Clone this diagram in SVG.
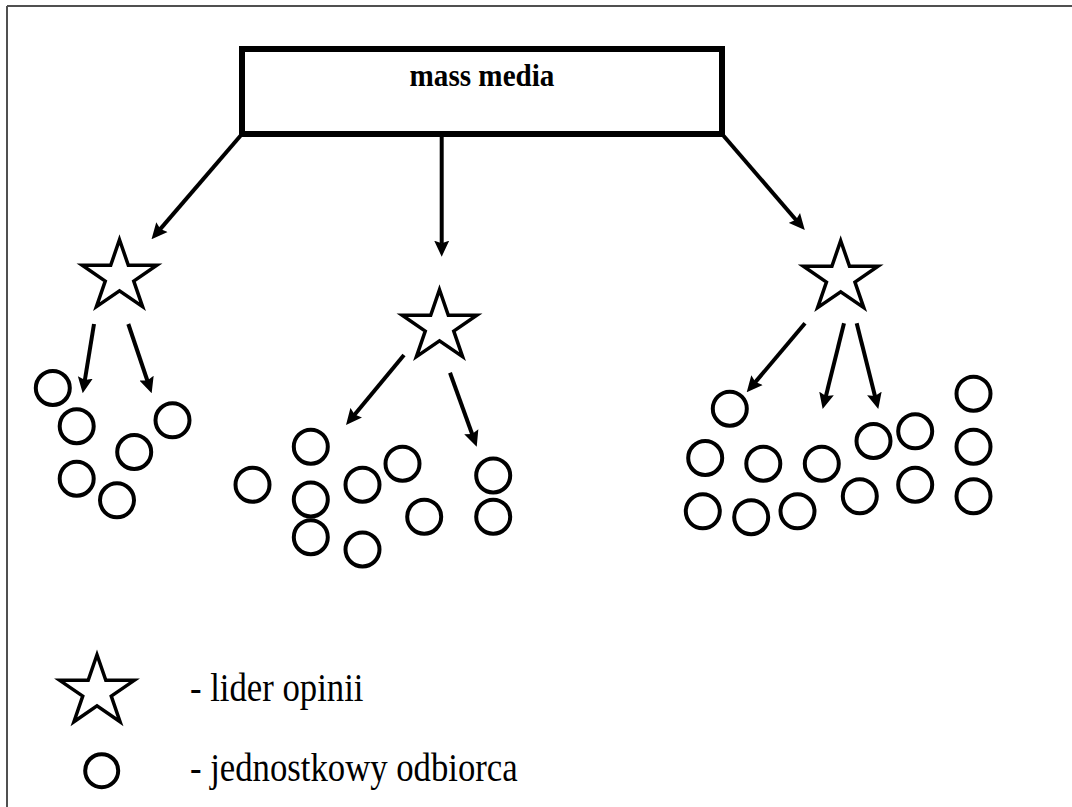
<svg xmlns="http://www.w3.org/2000/svg" xmlns:xlink="http://www.w3.org/1999/xlink" width="1072" height="807" viewBox="0 0 1072 807">
<style>
.frame{stroke:#505050;stroke-width:2;fill:none}
.box{fill:#fff;stroke:#000;stroke-width:6}
.star{fill:#fff;stroke:#000;stroke-width:3.5;stroke-linejoin:miter;stroke-miterlimit:8}
.rcv{fill:#fff;stroke:#000;stroke-width:4}
.conn{stroke:#000;stroke-width:4;fill:none;marker-end:url(#ah)}
.title{font-family:"Liberation Serif","Times New Roman",serif;font-weight:bold;font-size:31px;fill:#000}
.leg{font-family:"Liberation Serif","Times New Roman",serif;font-size:39px;fill:#000}
</style>
<defs>
<marker id="ah" markerUnits="userSpaceOnUse" viewBox="0 0 16 16" markerWidth="16" markerHeight="16" refX="3" refY="8" orient="auto">
<path d="M0,0.5 L16,8 L0,15.5 L2.5,8 Z" fill="#000"/>
</marker>
<path id="star" d="M0,-37 L8.81,-11.43 L37.30,-11.43 L14.25,4.37 L23.06,29.93 L0,14.13 L-23.06,29.93 L-14.25,4.37 L-37.30,-11.43 L-8.81,-11.43 Z"/>
</defs>
<rect width="1072" height="807" fill="#fff"/>
<g id="frame">
<line class="frame" x1="7" y1="6" x2="1072" y2="6"/>
<line class="frame" x1="7" y1="6" x2="7" y2="807"/>
</g>
<g id="connectors">
<line class="conn" x1="242" y1="134" x2="160" y2="229.4"/>
<line class="conn" x1="441.7" y1="137" x2="441.7" y2="243.7"/>
<line class="conn" x1="722" y1="134" x2="796.3" y2="220.2"/>
<line class="conn" x1="94" y1="324" x2="84.8" y2="380.5"/>
<line class="conn" x1="128.3" y1="324" x2="147.5" y2="381"/>
<line class="conn" x1="404" y1="355" x2="354.3" y2="415"/>
<line class="conn" x1="450" y1="372.7" x2="472.3" y2="434.5"/>
<line class="conn" x1="805" y1="323.3" x2="755.1" y2="382.4"/>
<line class="conn" x1="844" y1="323.3" x2="825.8" y2="396.4"/>
<line class="conn" x1="856.7" y1="323.3" x2="875.1" y2="396.4"/>
</g>
<g id="mass-media">
<rect class="box" x="242" y="49" width="480" height="85"/>
<text class="title" transform="translate(482,86) scale(0.94,1)" text-anchor="middle">mass media</text>
</g>
<g id="leader-left"><use xlink:href="#star" href="#star" class="star" x="119.5" y="276.7"/></g>
<g id="leader-middle"><use xlink:href="#star" href="#star" class="star" x="439.5" y="326.7"/></g>
<g id="leader-right"><use xlink:href="#star" href="#star" class="star" x="840.7" y="277.7"/></g>
<g id="receivers-left">
<circle class="rcv" cx="52.8" cy="388" r="17"/>
<circle class="rcv" cx="76.7" cy="426.2" r="17"/>
<circle class="rcv" cx="172.5" cy="420.3" r="17"/>
<circle class="rcv" cx="134.2" cy="452" r="17"/>
<circle class="rcv" cx="76.7" cy="478.7" r="17"/>
<circle class="rcv" cx="117" cy="500.3" r="17"/>
</g>
<g id="receivers-middle">
<circle class="rcv" cx="310.8" cy="446.7" r="17"/>
<circle class="rcv" cx="252.5" cy="484.7" r="17"/>
<circle class="rcv" cx="310.8" cy="499.5" r="17"/>
<circle class="rcv" cx="310.8" cy="537.2" r="17"/>
<circle class="rcv" cx="362.5" cy="484.7" r="17"/>
<circle class="rcv" cx="402.5" cy="463.7" r="17"/>
<circle class="rcv" cx="362.5" cy="549.5" r="17"/>
<circle class="rcv" cx="424.2" cy="516.7" r="17"/>
<circle class="rcv" cx="493.2" cy="475.5" r="17"/>
<circle class="rcv" cx="493.2" cy="516.7" r="17"/>
</g>
<g id="receivers-right">
<circle class="rcv" cx="729.8" cy="408.7" r="17"/>
<circle class="rcv" cx="705.2" cy="458" r="17"/>
<circle class="rcv" cx="763.3" cy="463.7" r="17"/>
<circle class="rcv" cx="821.8" cy="463.7" r="17"/>
<circle class="rcv" cx="873.5" cy="441" r="17"/>
<circle class="rcv" cx="915.2" cy="431.3" r="17"/>
<circle class="rcv" cx="973.5" cy="393.7" r="17"/>
<circle class="rcv" cx="973.5" cy="446.7" r="17"/>
<circle class="rcv" cx="973.5" cy="496.2" r="17"/>
<circle class="rcv" cx="915.2" cy="484.7" r="17"/>
<circle class="rcv" cx="859.8" cy="496.2" r="17"/>
<circle class="rcv" cx="702.8" cy="511.3" r="17"/>
<circle class="rcv" cx="751.2" cy="517.2" r="17"/>
<circle class="rcv" cx="797.5" cy="511.3" r="17"/>
</g>
<g id="legend-leader">
<use xlink:href="#star" href="#star" class="star" x="97" y="691.8"/>
<text class="leg" transform="translate(190,701) scale(0.89,1)">- lider opinii</text>
</g>
<g id="legend-receiver">
<circle class="rcv" cx="101.7" cy="770.7" r="16.5"/>
<text class="leg" transform="translate(190,781) scale(0.89,1)">- jednostkowy odbiorca</text>
</g>
</svg>
